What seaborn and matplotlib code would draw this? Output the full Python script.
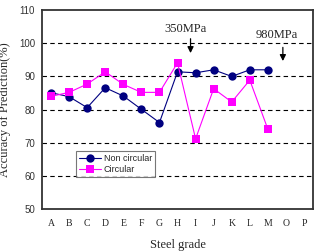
import pandas as pd
import seaborn as sns
import matplotlib.pyplot as plt

# steel grades on the x axis (O and P have no data)
grades = ['A', 'B', 'C', 'D', 'E', 'F', 'G', 'H', 'I', 'J', 'K', 'L', 'M', 'O', 'P']
non_circular = [85.1, 83.9, 80.6, 86.6, 84.1, 80.1, 76.1, 91.4, 91.1, 92.0, 90.0, 92.0, 92.0]
circular = [84.0, 85.2, 87.7, 91.4, 87.6, 85.2, 85.2, 94.1, 71.2, 86.3, 82.3, 88.9, 74.1]
y_ticks = [50, 60, 70, 80, 90, 100, 110]

df = pd.DataFrame({
    'pos': list(range(len(non_circular))) * 2,
    'acc': non_circular + circular,
    'series': ['Non circular'] * len(non_circular) + ['Circular'] * len(circular),
})

sns.set_style('white')
plt.rcParams['font.family'] = ['Liberation Serif', 'DejaVu Serif']

fig = plt.figure(figsize=(3.17, 2.52), dpi=100)
ax = fig.add_axes([0.1325, 0.17, 0.855, 0.79])

for yv in y_ticks[1:-1]:
    ax.axhline(yv, color='black', lw=0.8, ls=(0, (4, 3)), zorder=0)

sns.lineplot(data=df, x='pos', y='acc', hue='series', style='series',
             palette={'Non circular': '#000080', 'Circular': '#FF00FF'},
             markers={'Non circular': 'o', 'Circular': 's'},
             dashes={'Non circular': '', 'Circular': ''},
             markersize=6, markeredgewidth=0, lw=0.8, ax=ax)

# strength markers
ax.annotate('', xy=(7.72, 96.2), xytext=(7.72, 102.2),
            arrowprops=dict(arrowstyle='-|>', color='black', lw=0.9, mutation_scale=9))
ax.text(7.45, 104.2, '350MPa', ha='center', va='center', fontsize=9)
ax.annotate('', xy=(12.83, 93.8), xytext=(12.83, 99.6),
            arrowprops=dict(arrowstyle='-|>', color='black', lw=0.9, mutation_scale=9))
ax.text(12.5, 102.4, '980MPa', ha='center', va='center', fontsize=9)

ax.set_xlim(-0.5, len(grades) - 0.5)
ax.set_ylim(50, 110)
ax.set_xticks(range(len(grades)))
ax.set_xticklabels(grades, fontsize=7)
ax.set_yticks(y_ticks)
ax.set_yticklabels([str(v) for v in y_ticks], fontsize=7, family=['Liberation Sans', 'DejaVu Sans'], color='#333333')
ax.tick_params(axis='both', length=0, pad=7)
ax.tick_params(axis='y', pad=5)
ax.set_xlabel('Steel grade', fontsize=9, labelpad=8)
ax.set_ylabel('Accuracy of Prediction(%)', fontsize=9, labelpad=6)

for s in ax.spines.values():
    s.set_color('#333333')
    s.set_linewidth(1.3)

leg = ax.legend(loc='upper left', bbox_to_anchor=(0.125, 0.29), fontsize=6.5,
                prop={'family': ['Liberation Sans', 'DejaVu Sans'], 'size': 6.5},
                frameon=True, fancybox=False, edgecolor='#555555', borderpad=0.3,
                handlelength=2.5, handletextpad=0.3, labelspacing=0.2, borderaxespad=0)
leg.get_frame().set_linewidth(0.8)

fig.savefig('out.png', dpi=100)
